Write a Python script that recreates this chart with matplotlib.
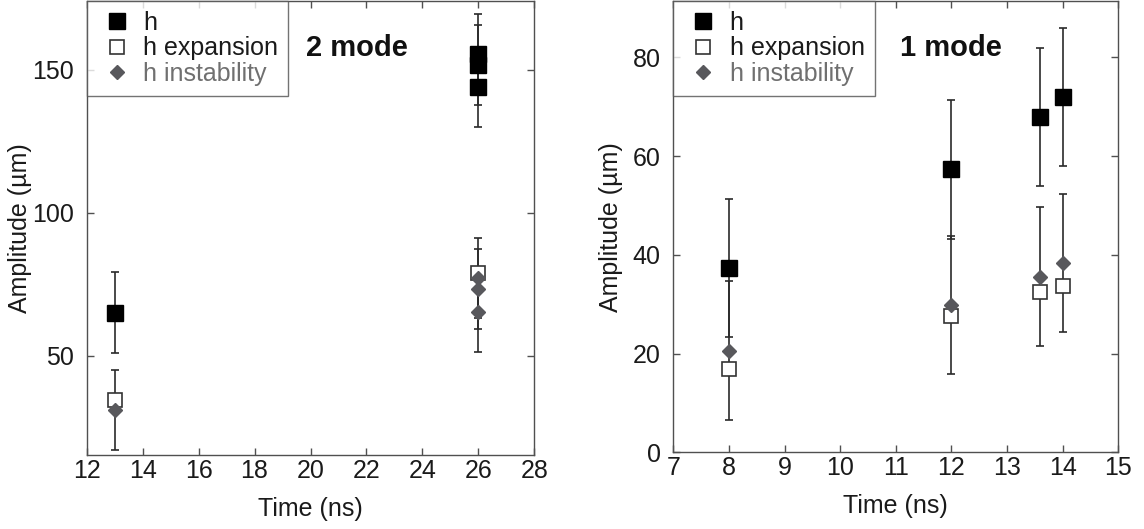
import matplotlib
matplotlib.use("Agg")
import matplotlib.pyplot as plt
from matplotlib.lines import Line2D

plt.rcParams['font.family'] = ['Liberation Sans', 'DejaVu Sans']

# ---- data: "2 mode" panel ----
t2_h = [13, 26, 26, 26]
h2 = [65.1, 155.4, 151.8, 143.9]
h2_err = [14, 14, 14, 14]
t2_exp = [13, 26]
exp2 = [34.5, 78.8]
t2_ins = [13, 26, 26, 26]
ins2 = [30.9, 77.2, 73.3, 65.4]
ins2_err = [14, 14, 14, 14]

# ---- data: "1 mode" panel ----
t1 = [8, 12, 13.6, 14]
h1 = [37.4, 57.3, 67.9, 72.0]
h1_err = [14, 14, 14, 14]
exp1 = [16.9, 27.6, 32.5, 33.7]
ins1 = [20.6, 29.8, 35.6, 38.3]
ins1_err = [14, 14, 14, 14]

xticks_left = [12, 14, 16, 18, 20, 22, 24, 26, 28]
yticks_left = [50, 100, 150]
xticks_right = [7, 8, 9, 10, 11, 12, 13, 14, 15]
yticks_right = [0, 20, 40, 60, 80]

labels = ["h", "h expansion", "h instability"]

FS = 18
SPINE = "#505050"
INS_C = "#58585c"
ERR_C = "#2a2a2a"

fig = plt.figure(figsize=(11.44, 5.29), dpi=100)
axL = fig.add_axes([86.7/1144, 1 - 454.7/529, (534.3-86.7)/1144, 454.7/529 - 0.002])
axR = fig.add_axes([673.3/1144, 1 - 452.3/529, (1118.3-673.3)/1144, 452.3/529 - 0.002])


def draw(ax, th, h, herr, te, e, ti, ins, ierr):
    ax.errorbar(th, h, yerr=herr, fmt='none', ecolor=ERR_C, elinewidth=1.2,
                capsize=2.8, capthick=1.2, zorder=2)
    ax.errorbar(ti, ins, yerr=ierr, fmt='none', ecolor=ERR_C, elinewidth=1.2,
                capsize=2.8, capthick=1.2, zorder=2)
    ax.plot(th, h, ls='none', marker='s', ms=11, mfc='black', mec='black', zorder=3)
    ax.plot(te, e, ls='none', marker='s', ms=10.5, mfc='white', mec='#333333',
            mew=1.2, zorder=4)
    ax.plot(ti, ins, ls='none', marker='D', ms=7.5, mfc=INS_C, mec=INS_C, zorder=5)


def style(ax, xt, yt, xlim, ylim, title, tx, ylab_x):
    ax.set_xlim(*xlim)
    ax.set_ylim(*ylim)
    ax.set_xticks(xt)
    ax.set_yticks(yt)
    ax.tick_params(direction='in', length=5, width=1, color=SPINE,
                   top=True, right=True, labelsize=FS, labelcolor='#1a1a1a')
    ax.tick_params(axis='x', pad=3)
    ax.tick_params(axis='y', pad=9)
    for s in ax.spines.values():
        s.set_color(SPINE)
        s.set_linewidth(1.0)
    ax.set_xlabel("Time (ns)", fontsize=FS, labelpad=10, color='#1a1a1a')
    ax.set_ylabel("Amplitude (µm)", fontsize=FS, color='#1a1a1a')
    ax.yaxis.set_label_coords(ylab_x, 0.5)
    handles = [
        Line2D([], [], ls='none', marker='s', ms=11, mfc='black', mec='black'),
        Line2D([], [], ls='none', marker='s', ms=10.5, mfc='white', mec='#333333', mew=1.2),
        Line2D([], [], ls='none', marker='D', ms=7.5, mfc=INS_C, mec=INS_C),
    ]
    leg = ax.legend(handles, labels, loc='upper left', bbox_to_anchor=(0, 1),
                    borderaxespad=0, frameon=True, fancybox=False, fontsize=FS,
                    handlelength=1.6, handletextpad=0.25, labelspacing=0.05,
                    borderpad=0.4)
    leg.get_frame().set_edgecolor(SPINE)
    leg.get_frame().set_linewidth(1.0)
    leg.get_texts()[2].set_color("#707070")
    leg.get_texts()[0].set_color("#1a1a1a")
    leg.get_texts()[1].set_color("#1a1a1a")
    ax.text(tx, 0.897, title, transform=ax.transAxes, fontsize=21,
            fontweight='bold', ha='center', va='center', color='#111111')


draw(axL, t2_h, h2, h2_err, t2_exp, exp2, t2_ins, ins2, ins2_err)
style(axL, xticks_left, yticks_left, (12, 28), (15.4, 174), "2 mode", 0.603, -0.122)

draw(axR, t1, h1, h1_err, t1, exp1, t1, ins1, ins1_err)
style(axR, xticks_right, yticks_right, (7, 15), (0, 91.4), "1 mode", 0.625, -0.113)

fig.savefig("out.png", dpi=100)
